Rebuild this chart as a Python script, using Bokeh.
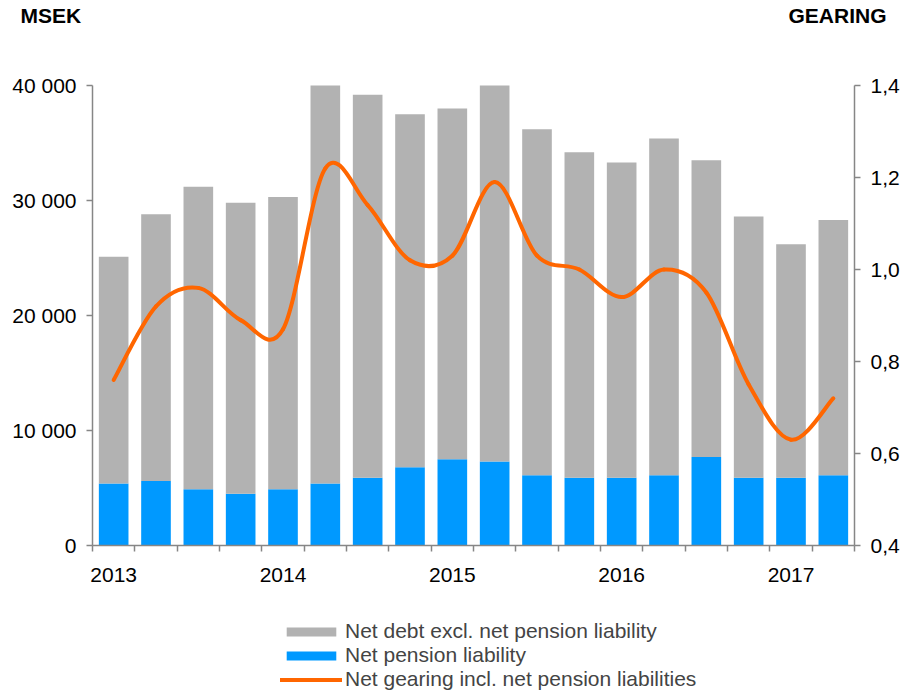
import numpy as np
from bokeh.plotting import figure
from bokeh.models import (Range1d, LinearAxis, FixedTicker, CustomJSTickFormatter,
                          Legend, LegendItem, Label, ColumnDataSource)
from bokeh.embed import file_html
from bokeh.resources import INLINE

# ---- data ----
quarters = ["2013 Q1", "2013 Q2", "2013 Q3", "2013 Q4",
            "2014 Q1", "2014 Q2", "2014 Q3", "2014 Q4",
            "2015 Q1", "2015 Q2", "2015 Q3", "2015 Q4",
            "2016 Q1", "2016 Q2", "2016 Q3", "2016 Q4",
            "2017 Q1", "2017 Q2"]
year_labels = ["2013", "", "", "", "2014", "", "", "", "2015", "", "", "",
               "2016", "", "", "", "2017", ""]
net_pension = [5400, 5600, 4900, 4500, 4900, 5400, 5900, 6800, 7500,
               7300, 6100, 5900, 5900, 6100, 7700, 5900, 5900, 6100]
net_debt_excl = [19700, 23200, 26300, 25300, 25400, 34600, 33300, 30700, 30500,
                 32700, 30100, 28300, 27400, 29300, 25800, 22700, 20300, 22200]
gearing = [0.76, 0.92, 0.96, 0.89, 0.87, 1.22, 1.14, 1.02, 1.03,
           1.19, 1.03, 1.00, 0.94, 1.00, 0.95, 0.75, 0.63, 0.72]
left_ticks = [0, 10000, 20000, 30000, 40000]
right_ticks = [0.4, 0.6, 0.8, 1.0, 1.2, 1.4]

GRAY = "#B2B2B2"
BLUE = "#0099FF"
ORANGE = "#FF6600"
AXIS = "#868686"
FONT = "Liberation Sans"

# ---- layout (pixels) ----
W, H = 907, 691
PL, PR, PT, PB = 92, 854, 85, 545          # plot area edges
nq = len(quarters)
ux = (PR - PL) / nq                        # px per category
x_lo = -0.5 - PL / ux
x_hi = nq - 0.5 + (W - PR) / ux
ly0, ly1 = left_ticks[0], left_ticks[-1]
uy = (PB - PT) / (ly1 - ly0)
y_lo = ly0 - (H - PB) / uy
y_hi = ly1 + PT / uy
ry0, ry1 = right_ticks[0], right_ticks[-1]
ury = (PB - PT) / (ry1 - ry0)
r_lo = ry0 - (H - PB) / ury
r_hi = ry1 + PT / ury

xs = list(range(nq))
src = ColumnDataSource(dict(x=xs, pension=net_pension, debt=net_debt_excl))

p = figure(width=W, height=H, x_range=Range1d(x_lo, x_hi),
           y_range=Range1d(y_lo, y_hi), output_backend="svg", toolbar_location=None,
           min_border=0, x_axis_type=None, y_axis_type=None)
p.extra_y_ranges = {"g": Range1d(r_lo, r_hi)}
p.xgrid.visible = False
p.ygrid.visible = False
p.outline_line_color = None

bars = p.vbar_stack(["pension", "debt"], x="x", width=0.7, source=src,
                    color=[BLUE, GRAY], line_color=None)

# smooth line (Catmull-Rom Bezier through the data points)
gx = np.array(xs, dtype=float)
gy = np.array(gearing, dtype=float)
n = len(gx)
px = np.concatenate([[gx[0]], gx, [gx[-1]]])
py = np.concatenate([[gy[0]], gy, [gy[-1]]])
bsrc = ColumnDataSource(dict(
    x0=gx[:-1], y0=gy[:-1], x1=gx[1:], y1=gy[1:],
    cx0=gx[:-1] + (px[2:n + 1] - px[0:n - 1]) / 6.0,
    cy0=gy[:-1] + (py[2:n + 1] - py[0:n - 1]) / 6.0,
    cx1=gx[1:] - (px[3:n + 2] - px[1:n]) / 6.0,
    cy1=gy[1:] - (py[3:n + 2] - py[1:n]) / 6.0,
))
line_r = p.bezier(x0="x0", y0="y0", x1="x1", y1="y1", cx0="cx0", cy0="cy0",
                  cx1="cx1", cy1="cy1", source=bsrc, y_range_name="g",
                  line_color=ORANGE, line_width=4, line_cap="round")

# axes (fixed inside the frame)
ya = LinearAxis(ticker=FixedTicker(ticks=left_ticks), fixed_location=-0.5,
                bounds=(ly0, ly1),
                formatter=CustomJSTickFormatter(
                    code="return tick == 0 ? '0' : (tick/1000).toFixed(0) + ' 000';"))
ra = LinearAxis(y_range_name="g", ticker=FixedTicker(ticks=right_ticks),
                fixed_location=nq - 0.5, bounds=(ry0, ry1),
                formatter=CustomJSTickFormatter(
                    code="return tick.toFixed(1).replace('.', ',');"))
p.add_layout(ya, "left")
p.add_layout(ra, "right")
for ax in (ya, ra):
    ax.axis_line_color = AXIS
    ax.axis_line_width = 1.5
    ax.major_tick_line_color = AXIS
    ax.major_tick_line_width = 1.5
    ax.major_tick_out = 6
    ax.major_tick_in = 0
    ax.minor_tick_out = 0
    ax.minor_tick_in = 0
    ax.major_label_text_font = FONT
    ax.major_label_text_font_size = "21px"
    ax.major_label_text_color = "black"
    ax.major_label_standoff = 10

xa = LinearAxis(ticker=FixedTicker(ticks=[i for i, l in enumerate(year_labels) if l],
                                   minor_ticks=[i - 0.5 for i in range(nq + 1)]),
                formatter=CustomJSTickFormatter(args=dict(labels=year_labels),
                                                code="return labels[Math.round(tick)];"),
                fixed_location=ly0, bounds=(-0.5, nq - 0.5))
p.add_layout(xa, "below")
xa.axis_line_color = AXIS
xa.axis_line_width = 1.5
xa.major_tick_out = 0
xa.major_tick_in = 0
xa.minor_tick_line_color = AXIS
xa.minor_tick_line_width = 1.5
xa.minor_tick_out = 6
xa.minor_tick_in = 0
xa.major_label_text_font = FONT
xa.major_label_text_font_size = "21px"
xa.major_label_text_color = "black"
xa.major_label_standoff = 16

# unit titles
p.add_layout(Label(x=20, y=H - 3, x_units="screen", y_units="screen", text="MSEK",
                   text_font=FONT, text_font_style="bold", text_font_size="21px",
                   text_baseline="top", text_color="black"))
p.add_layout(Label(x=886, y=H - 3, x_units="screen", y_units="screen", text="GEARING",
                   text_font=FONT, text_font_style="bold", text_font_size="21px",
                   text_baseline="top", text_align="right", text_color="black"))

legend = Legend(items=[
    LegendItem(label="Net debt excl. net pension liability", renderers=[bars[1]]),
    LegendItem(label="Net pension liability", renderers=[bars[0]]),
    LegendItem(label="Net gearing incl. net pension liabilities", renderers=[line_r]),
], location=(280, 0), orientation="vertical", border_line_color=None,
    background_fill_alpha=0, padding=0, margin=0, spacing=0,
    glyph_width=62, glyph_height=11, label_standoff=3,
    label_text_font=FONT, label_text_font_size="21px", label_height=24)
p.add_layout(legend, "center")

open("out.html", "w").write(file_html(p, INLINE))
